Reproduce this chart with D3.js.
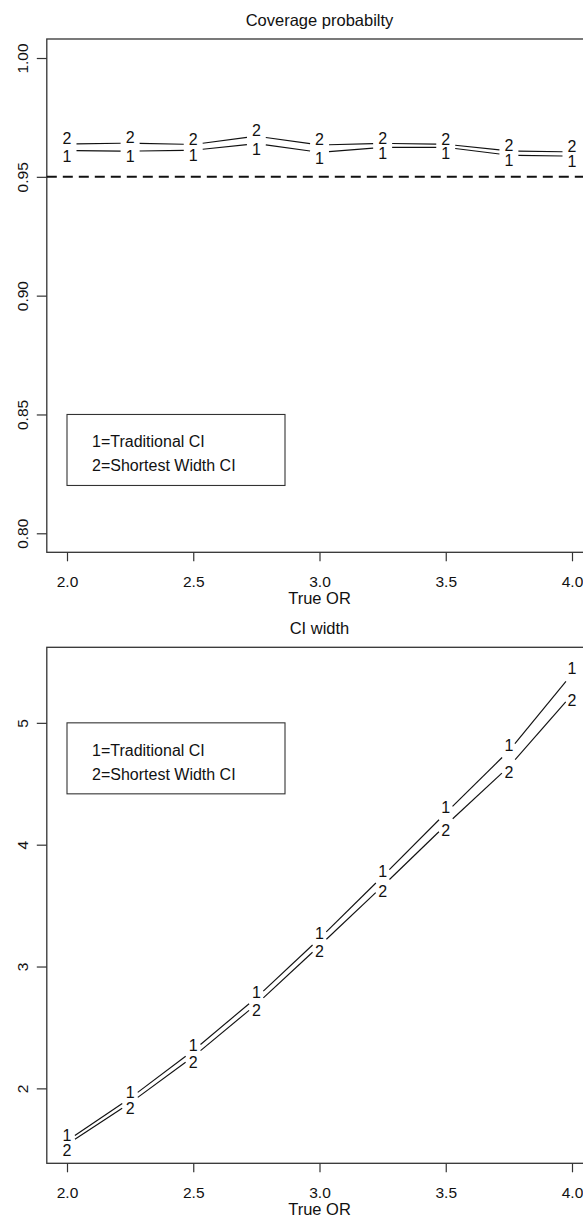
<!DOCTYPE html>
<html>
<head>
<meta charset="utf-8">
<script src="https://cdn.jsdelivr.net/npm/d3@7"></script>
<style>
  body { margin: 0; background: #fff; }
  svg { display: block; font-family: "Liberation Sans", Arial, sans-serif; }
</style>
</head>
<body>
<svg width="583" height="1219"></svg>
<script>
// значения по оси OX
const trueOR = [2.0, 2.25, 2.5, 2.75, 3.0, 3.25, 3.5, 3.75, 4.0];

// вероятность покрытия
const coverTrad  = [0.9611, 0.9608, 0.9612, 0.9640, 0.9603, 0.9624, 0.9624, 0.9591, 0.9587];
const coverShort = [0.9638, 0.9642, 0.9636, 0.9671, 0.9634, 0.9641, 0.9637, 0.9609, 0.9605];

// ширина интервала
const widthTrad  = [1.57, 1.92, 2.31, 2.745, 3.23, 3.74, 4.26, 4.77, 5.40];
const widthShort = [1.54, 1.88, 2.26, 2.69, 3.17, 3.66, 4.16, 4.64, 5.23];

const orTicks = [2.0, 2.5, 3.0, 3.5, 4.0];
const coverTicks = [0.80, 0.85, 0.90, 0.95, 1.00];
const widthTicks = [2, 3, 4, 5];
const legendLabels = ["1=Traditional CI", "2=Shortest Width CI"];

const svg = d3.select("svg");
const ink = "#111";

function drawPanel(cfg) {
    const a = cfg.area;
    const scX = d3.scaleLinear().domain([1.92, 4.08]).range([a.left, a.right]);
    const scY = d3.scaleLinear().domain(cfg.yDomain).range([a.bottom, a.top]);

    const g = svg.append("g");

    // оси
    g.append("g")
        .attr("transform", `translate(0, ${a.bottom})`)
        .call(d3.axisBottom(scX).tickValues(orTicks).tickFormat(d3.format(".1f"))
            .tickSize(9).tickSizeOuter(0).tickPadding(15))
        .call(ax => ax.select(".domain").remove())
        .call(ax => ax.selectAll("text").attr("font-size", 15.5).attr("fill", ink).attr("font-family", null));

    g.append("g")
        .attr("transform", `translate(${a.left}, 0)`)
        .call(d3.axisLeft(scY).tickValues(cfg.yTicks).tickFormat(cfg.yFormat)
            .tickSize(10).tickSizeOuter(0))
        .call(ax => ax.select(".domain").remove())
        .call(ax => ax.selectAll("text")
            .attr("x", null).attr("dy", null)
            .attr("font-size", 15.5).attr("fill", ink).attr("font-family", null)
            .attr("text-anchor", "middle")
            .attr("transform", "translate(-19, 0) rotate(-90)"));

    g.selectAll(".tick line").attr("stroke", "#333").attr("stroke-width", 1.2);

    // рамка
    g.append("rect")
        .attr("x", a.left).attr("y", a.top)
        .attr("width", a.right - a.left).attr("height", a.bottom - a.top)
        .attr("fill", "none").attr("stroke", "#333").attr("stroke-width", 1.3);

    // подписи
    g.append("text").attr("x", (a.left + a.right) / 2).attr("y", a.top - 13)
        .attr("text-anchor", "middle").attr("font-size", 16.5).attr("fill", ink)
        .text(cfg.title);
    g.append("text").attr("x", (a.left + a.right) / 2).attr("y", a.bottom + 52)
        .attr("text-anchor", "middle").attr("font-size", 16.5).attr("fill", ink)
        .text("True OR");

    if (cfg.refLine !== undefined) {
        g.append("line")
            .attr("x1", a.left).attr("x2", a.right)
            .attr("y1", scY(cfg.refLine)).attr("y2", scY(cfg.refLine))
            .attr("stroke", ink).attr("stroke-width", 2)
            .attr("stroke-dasharray", "10,6");
    }

    // линии с разрывами у точек и подписи "1" / "2"
    const gap = 9.5;
    cfg.series.forEach(s => {
        const pts = trueOR.map((x, i) => [scX(x), scY(s.values[i])]);
        const segs = d3.pairs(pts).map(([p, q]) => {
            const dx = q[0] - p[0], dy = q[1] - p[1];
            const len = Math.hypot(dx, dy);
            const ux = dx / len, uy = dy / len;
            return [p[0] + ux * gap, p[1] + uy * gap, q[0] - ux * gap, q[1] - uy * gap];
        });
        g.selectAll(null).data(segs).enter().append("line")
            .attr("x1", d => d[0]).attr("y1", d => d[1])
            .attr("x2", d => d[2]).attr("y2", d => d[3])
            .attr("stroke", ink).attr("stroke-width", 1.15);
        g.selectAll(null).data(pts).enter().append("text")
            .attr("x", d => d[0]).attr("y", d => d[1] + s.shift)
            .attr("dy", "0.36em").attr("text-anchor", "middle")
            .attr("font-size", 16).attr("fill", ink)
            .text(s.label);
    });

    // легенда
    const lx = scX(2.0), ly = scY(cfg.legendTop);
    g.append("rect").attr("x", lx).attr("y", ly).attr("width", 218).attr("height", 71)
        .attr("fill", "#fff").attr("stroke", "#333").attr("stroke-width", 1.1);
    g.selectAll(null).data(legendLabels).enter().append("text")
        .attr("x", lx + 25).attr("y", (d, i) => ly + 27 + i * 24)
        .attr("dy", "0.36em").attr("font-size", 16).attr("fill", ink)
        .text(d => d);
}

drawPanel({
    area: {left: 46.8, right: 592.2, top: 39, bottom: 552.3},
    yDomain: [0.792, 1.008],
    yTicks: coverTicks,
    yFormat: d3.format(".2f"),
    title: "Coverage probabilty",
    refLine: 0.95,
    legendTop: 0.85,
    series: [
        {values: coverShort, label: "2", shift: -5.5},
        {values: coverTrad, label: "1", shift: 5.5}
    ]
});

drawPanel({
    area: {left: 46.8, right: 592.2, top: 647.3, bottom: 1163.3},
    yDomain: [1.385, 5.62],
    yTicks: widthTicks,
    yFormat: d3.format("d"),
    title: "CI width",
    legendTop: 5,
    series: [
        {values: widthTrad, label: "1", shift: -5.5},
        {values: widthShort, label: "2", shift: 5.5}
    ]
});
</script>
</body>
</html>
